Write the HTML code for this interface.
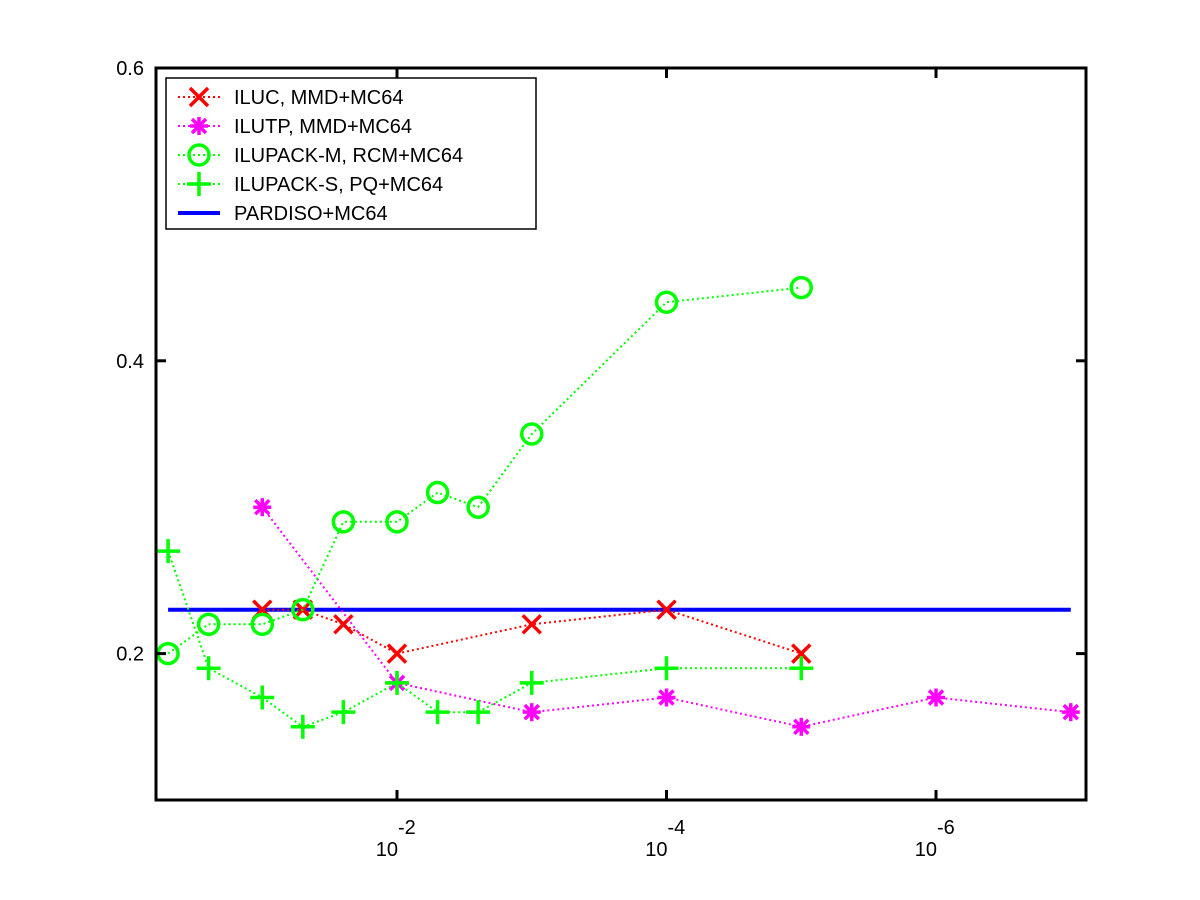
<!DOCTYPE html>
<html><head><meta charset="utf-8"><style>
html,body{margin:0;padding:0;background:#fff;}
svg{display:block;font-family:"Liberation Sans",sans-serif;}
</style></head><body>
<svg id="chart" width="1200" height="900" viewBox="0 0 1200 900" xmlns="http://www.w3.org/2000/svg">
<rect width="1200" height="900" fill="#fff"/>
<g id="plot"></g>
<rect x="156" y="68" width="930" height="732" fill="none" stroke="#000" stroke-width="3"/>
<g id="axes"></g>
<g id="legend"></g>
</svg>
<script>
const xValues = [0.5,0.25,0.1,0.05,0.025,0.01,0.005,0.0025,1e-3,1e-4,1e-5,1e-6,1e-7];
const ilucX = [0.1,0.05,0.025,0.01,1e-3,1e-4,1e-5];
const ilucY = [0.23,0.23,0.22,0.20,0.22,0.23,0.20];
const ilutpX = [0.1,0.01,1e-3,1e-4,1e-5,1e-6,1e-7];
const ilutpY = [0.30,0.18,0.16,0.17,0.15,0.17,0.16];
const ilupackMX = [0.5,0.25,0.1,0.05,0.025,0.01,0.005,0.0025,1e-3,1e-4,1e-5];
const ilupackMY = [0.20,0.22,0.22,0.23,0.29,0.29,0.31,0.30,0.35,0.44,0.45];
const ilupackSX = [0.5,0.25,0.1,0.05,0.025,0.01,0.005,0.0025,1e-3,1e-4,1e-5];
const ilupackSY = [0.27,0.19,0.17,0.15,0.16,0.18,0.16,0.16,0.18,0.19,0.19];
const pardisoX = [0.5,1e-7];
const pardisoY = [0.23,0.23];
const yTicks = [0.2,0.4,0.6];
const xTickExps = [-2,-4,-6];
const legendLabels = ["ILUC, MMD+MC64","ILUTP, MMD+MC64","ILUPACK-M, RCM+MC64","ILUPACK-S, PQ+MC64","PARDISO+MC64"];

const NS="http://www.w3.org/2000/svg";
const L=156,R=1086,T=68,B=800;
const eL=-0.2115, eR=-7.113, yMin=0.1, yMax=0.6;
function sx(v){const e=Math.log10(v);return L+(e-eL)/(eR-eL)*(R-L);}
function sy(v){return B-(v-yMin)/(yMax-yMin)*(B-T);}
function mk(tag,attrs,parent){const el=document.createElementNS(NS,tag);for(const k in attrs)el.setAttribute(k,attrs[k]);parent.appendChild(el);return el;}

const plot=document.getElementById('plot');
const axes=document.getElementById('axes');
const legend=document.getElementById('legend');

function marker(type,cx,cy,color,parent){
  const g=mk('g',{stroke:color,'stroke-width':3.5,fill:'none'},parent);
  const s=9;
  if(type==='x'){mk('line',{x1:cx-s,y1:cy-s,x2:cx+s,y2:cy+s},g);mk('line',{x1:cx-s,y1:cy+s,x2:cx+s,y2:cy-s},g);}
  else if(type==='*'){mk('line',{x1:cx-s,y1:cy,x2:cx+s,y2:cy},g);mk('line',{x1:cx,y1:cy-s,x2:cx,y2:cy+s},g);mk('line',{x1:cx-7,y1:cy-7,x2:cx+7,y2:cy+7},g);mk('line',{x1:cx-7,y1:cy+7,x2:cx+7,y2:cy-7},g);}
  else if(type==='o'){mk('circle',{cx:cx,cy:cy,r:10},g);}
  else if(type==='+'){mk('line',{x1:cx-12,y1:cy,x2:cx+12,y2:cy},g);mk('line',{x1:cx,y1:cy-12,x2:cx,y2:cy+12},g);}
  return g;
}
function series(name,xs,ys,color,type,dotted){
  const g=mk('g',{},plot);
  
  
  const pts=xs.map((x,i)=>sx(x).toFixed(1)+','+sy(ys[i]).toFixed(1)).join(' ');
  const ln=mk('polyline',{points:pts,fill:'none',stroke:color,'stroke-width':dotted?2:4,'stroke-dasharray':dotted?'2,3':'none'},g);
  
  
  if(type){xs.forEach((x,i)=>{const m=marker(type,sx(x),sy(ys[i]),color,g);
    
    });}
}
series('pardiso',pardisoX,pardisoY,'#0000ff',null,false);
series('iluc',ilucX,ilucY,'#ff0000','x',true);
series('ilutp',ilutpX,ilutpY,'#ff00ff','*',true);
series('ilupack-m',ilupackMX,ilupackMY,'#00ff00','o',true);
series('ilupack-s',ilupackSX,ilupackSY,'#00ff00','+',true);

yTicks.forEach(v=>{const y=sy(v);
  mk('line',{x1:L,y1:y,x2:L+10,y2:y,stroke:'#000','stroke-width':3},axes);
  mk('line',{x1:R,y1:y,x2:R-10,y2:y,stroke:'#000','stroke-width':3},axes);
  const t=mk('text',{x:L-12,y:y+7,'text-anchor':'end','font-size':20},axes);t.textContent=v.toFixed(1);
  
  
});
xTickExps.forEach(e=>{const x=sx(Math.pow(10,e));
  mk('line',{x1:x,y1:B,x2:x,y2:B-10,stroke:'#000','stroke-width':3},axes);
  mk('line',{x1:x,y1:T,x2:x,y2:T+10,stroke:'#000','stroke-width':3},axes);
  const t=mk('text',{x:x+1,y:856,'text-anchor':'end','font-size':20},axes);t.textContent='10';
  
  
  const s=mk('text',{x:x+1,y:834,'text-anchor':'start','font-size':20},axes);s.textContent=String(e);
  
  
});

mk('rect',{x:166,y:78,width:370,height:151,fill:'#fff',stroke:'#000','stroke-width':1.5},legend);
const legColors=['#ff0000','#ff00ff','#00ff00','#00ff00','#0000ff'];
const legTypes=['x','*','o','+',null];
legendLabels.forEach((lab,i)=>{const y=97+i*29;
  const g=mk('g',{},legend);
  
  
  mk('line',{x1:178,y1:y,x2:220,y2:y,stroke:legColors[i],'stroke-width':legTypes[i]?2:4,'stroke-dasharray':legTypes[i]?'2,3':'none'},g);
  if(legTypes[i])marker(legTypes[i],199,y,legColors[i],g);
  const t=mk('text',{x:234,y:y+7,'font-size':20},g);t.textContent=lab;
});
</script>
</body></html>
